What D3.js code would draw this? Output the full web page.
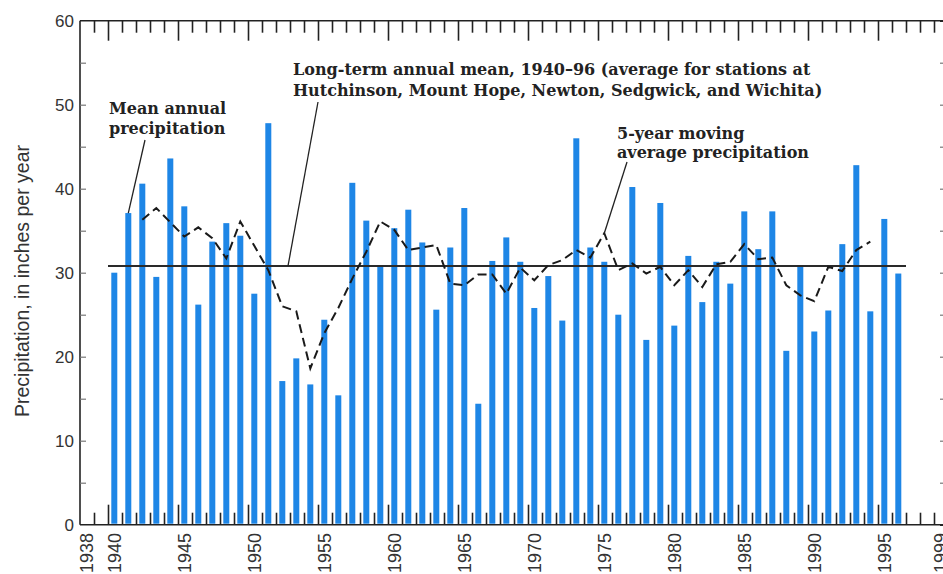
<!DOCTYPE html>
<head>
  <script src="https://cdnjs.cloudflare.com/ajax/libs/d3/7.8.5/d3.min.js"></script>
  <style>
    body { margin: 0; background: #fff; }
    .tick-label { font-family: "Liberation Sans", Arial, sans-serif; fill: #333; }
    .note { font-family: "DejaVu Serif", serif; font-weight: bold; fill: #222; }
  </style>
</head>
<body>
  <svg></svg>
</body>
<script>
  // annual precipitation, inches (bars)
  let years = [1940,1941,1942,1943,1944,1945,1946,1947,1948,1949,
               1950,1951,1952,1953,1954,1955,1956,1957,1958,1959,
               1960,1961,1962,1963,1964,1965,1966,1967,1968,1969,
               1970,1971,1972,1973,1974,1975,1976,1977,1978,1979,
               1980,1981,1982,1983,1984,1985,1986,1987,1988,1989,
               1990,1991,1992,1993,1994,1995,1996];
  let precip = [30.0,37.1,40.6,29.5,43.6,37.9,26.2,33.7,35.9,34.4,
                27.5,47.8,17.1,19.8,16.7,24.4,15.4,40.7,36.2,30.7,
                35.3,37.5,33.6,25.6,33.0,37.7,14.4,31.4,34.2,31.3,
                25.8,29.6,24.3,46.0,33.0,31.3,25.0,40.2,22.0,38.3,
                23.7,32.0,26.5,31.3,28.7,37.3,32.8,37.3,20.7,30.7,
                23.0,25.5,33.4,42.8,25.4,36.4,29.9];

  // 5-year moving average (centered), dashed line
  let avgYears = [1942,1943,1944,1945,1946,1947,1948,1949,1950,1951,
                  1952,1953,1954,1955,1956,1957,1958,1959,1960,1961,
                  1962,1963,1964,1965,1966,1967,1968,1969,1970,1971,
                  1972,1973,1974,1975,1976,1977,1978,1979,1980,1981,
                  1982,1983,1984,1985,1986,1987,1988,1989,1990,1991,
                  1992,1993,1994];
  let movingAvg = [36.3,37.7,36.0,34.3,35.4,34.1,31.7,36.1,33.2,30.3,
                   26.0,25.4,18.6,22.8,25.8,29.3,32.5,36.1,35.1,32.7,
                   33.0,33.3,28.7,28.5,29.8,29.8,27.5,30.6,29.1,30.9,
                   31.5,32.7,31.8,34.7,30.3,31.1,29.9,30.7,28.5,30.3,
                   28.3,31.0,31.3,33.4,31.6,31.8,28.5,27.3,26.6,30.7,
                   30.2,32.7,33.7];

  let longTermMean = 30.8;
  let meanSpan = [1940, 1997];

  let yTicks = [0,10,20,30,40,50,60];
  let xLabels = [1938,1940,1945,1950,1955,1960,1965,1970,1975,1980,1985,1990,1995,1999];

  let width = 943, height = 574;
  let svg = d3.select("svg").attr("width", width).attr("height", height);

  let scales = {
    x: d3.scaleLinear().domain([1938, 2000]).range([80, 948]),
    y: d3.scaleLinear().domain([0, 60]).range([524.7, 20.7])
  };
  let cx = yr => scales.x(yr + 0.45);

  // frame
  let frame = svg.append("g").attr("stroke", "#222").attr("stroke-width", 1.6).attr("fill", "none");
  frame.append("line").attr("x1", 80).attr("x2", 80).attr("y1", scales.y(60)).attr("y2", scales.y(0));
  frame.append("line").attr("x1", 80).attr("x2", 948).attr("y1", scales.y(60)).attr("y2", scales.y(60));
  frame.append("line").attr("x1", 80).attr("x2", 948).attr("y1", scales.y(0)).attr("y2", scales.y(0));

  // year ticks on top and bottom (inward)
  let tickYears = d3.range(1939, 2000);
  let axisTop = d3.axisTop(scales.x).tickValues(tickYears).tickFormat("")
    .tickSizeOuter(0).tickSizeInner(0);
  let topG = svg.append("g").attr("transform", "translate(0," + scales.y(60) + ")");
  let botG = svg.append("g").attr("transform", "translate(0," + scales.y(0) + ")");
  [topG, botG].forEach(function(g, i) {
    g.call(axisTop);
    g.select(".domain").remove();
    g.selectAll(".tick line")
      .attr("stroke", "#222")
      .attr("stroke-width", 1.6)
      .attr("y1", 0)
      .attr("y2", d => (i === 0 ? 1 : -1) * (d % 5 === 0 ? 20 : 12));
  });

  // y ticks (inward, every 5)
  let yMinor = d3.range(5, 60, 5);
  let axisL = d3.axisRight(scales.y).tickValues(yMinor).tickFormat("").tickSizeOuter(0).tickSize(6);
  let axisR = d3.axisLeft(scales.y).tickValues(yMinor).tickFormat("").tickSizeOuter(0).tickSize(8);
  svg.append("g").attr("transform", "translate(80,0)").call(axisL)
    .call(g => g.select(".domain").remove())
    .selectAll("line").attr("stroke", "#777").attr("stroke-width", 1.2);
  svg.append("g").attr("transform", "translate(948,0)").call(axisR)
    .call(g => g.select(".domain").attr("stroke", "#222").attr("stroke-width", 1.6))
    .selectAll("line").attr("stroke", "#777").attr("stroke-width", 1.2);

  // y labels
  svg.selectAll(".ylab").data(yTicks).enter().append("text")
    .attr("class", "tick-label ylab")
    .attr("x", 74).attr("y", d => scales.y(d)).attr("dy", "0.36em")
    .attr("text-anchor", "end").attr("font-size", 17)
    .text(d => d);

  // x labels rotated
  svg.selectAll(".xlab").data(xLabels).enter().append("text")
    .attr("class", "tick-label xlab")
    .attr("transform", d => "translate(" + scales.x(d + 0.45) + ",533) rotate(-90)")
    .attr("dy", "0.36em").attr("text-anchor", "end").attr("font-size", 18)
    .text(d => d);

  // y title
  svg.append("text").attr("class", "tick-label")
    .attr("transform", "translate(22,281) rotate(-90)")
    .attr("dy", "0.36em").attr("text-anchor", "middle").attr("font-size", 19.5)
    .text("Precipitation, in inches per year");

  // bars
  svg.selectAll(".bar").data(years).enter().append("rect")
    .attr("class", "bar")
    .attr("x", (d, i) => cx(d) - 3)
    .attr("width", 6)
    .attr("y", (d, i) => scales.y(precip[i]))
    .attr("height", (d, i) => scales.y(0) - scales.y(precip[i]) - 1)
    .attr("fill", "#1e86e6");

  // long-term mean
  svg.append("line")
    .attr("x1", scales.x(meanSpan[0])).attr("x2", scales.x(meanSpan[1]))
    .attr("y1", scales.y(longTermMean)).attr("y2", scales.y(longTermMean))
    .attr("stroke", "#2a2a2a").attr("stroke-width", 2);

  // moving average
  let line = d3.line().x((d, i) => cx(avgYears[i])).y(d => scales.y(d));
  svg.append("path").datum(movingAvg)
    .attr("d", line)
    .attr("fill", "none").attr("stroke", "#1a1a1a").attr("stroke-width", 2)
    .attr("stroke-dasharray", "9,5");

  // annotations
  function note(x, y, lines, lh) {
    let t = svg.append("text").attr("class", "note").attr("font-size", 16);
    lines.forEach(function(s, i) {
      t.append("tspan").attr("x", x).attr("y", y + i * lh).text(s);
    });
  }
  function leader(x1, y1, x2, y2) {
    svg.append("line").attr("x1", x1).attr("y1", y1).attr("x2", x2).attr("y2", y2)
      .attr("stroke", "#222").attr("stroke-width", 1.3);
  }

  note(109, 114, ["Mean annual", "precipitation"], 20);
  leader(145, 140, cx(1941), scales.y(precip[1]));

  note(293, 75, ["Long-term annual mean, 1940\u201396 (average for stations at",
                 "Hutchinson, Mount Hope, Newton, Sedgwick, and Wichita)"], 21);
  leader(318, 102, 288, scales.y(longTermMean));

  note(617, 139, ["5-year moving", "average precipitation"], 19);
  leader(627, 162, cx(1975), scales.y(movingAvg[avgYears.indexOf(1975)]));
</script>
